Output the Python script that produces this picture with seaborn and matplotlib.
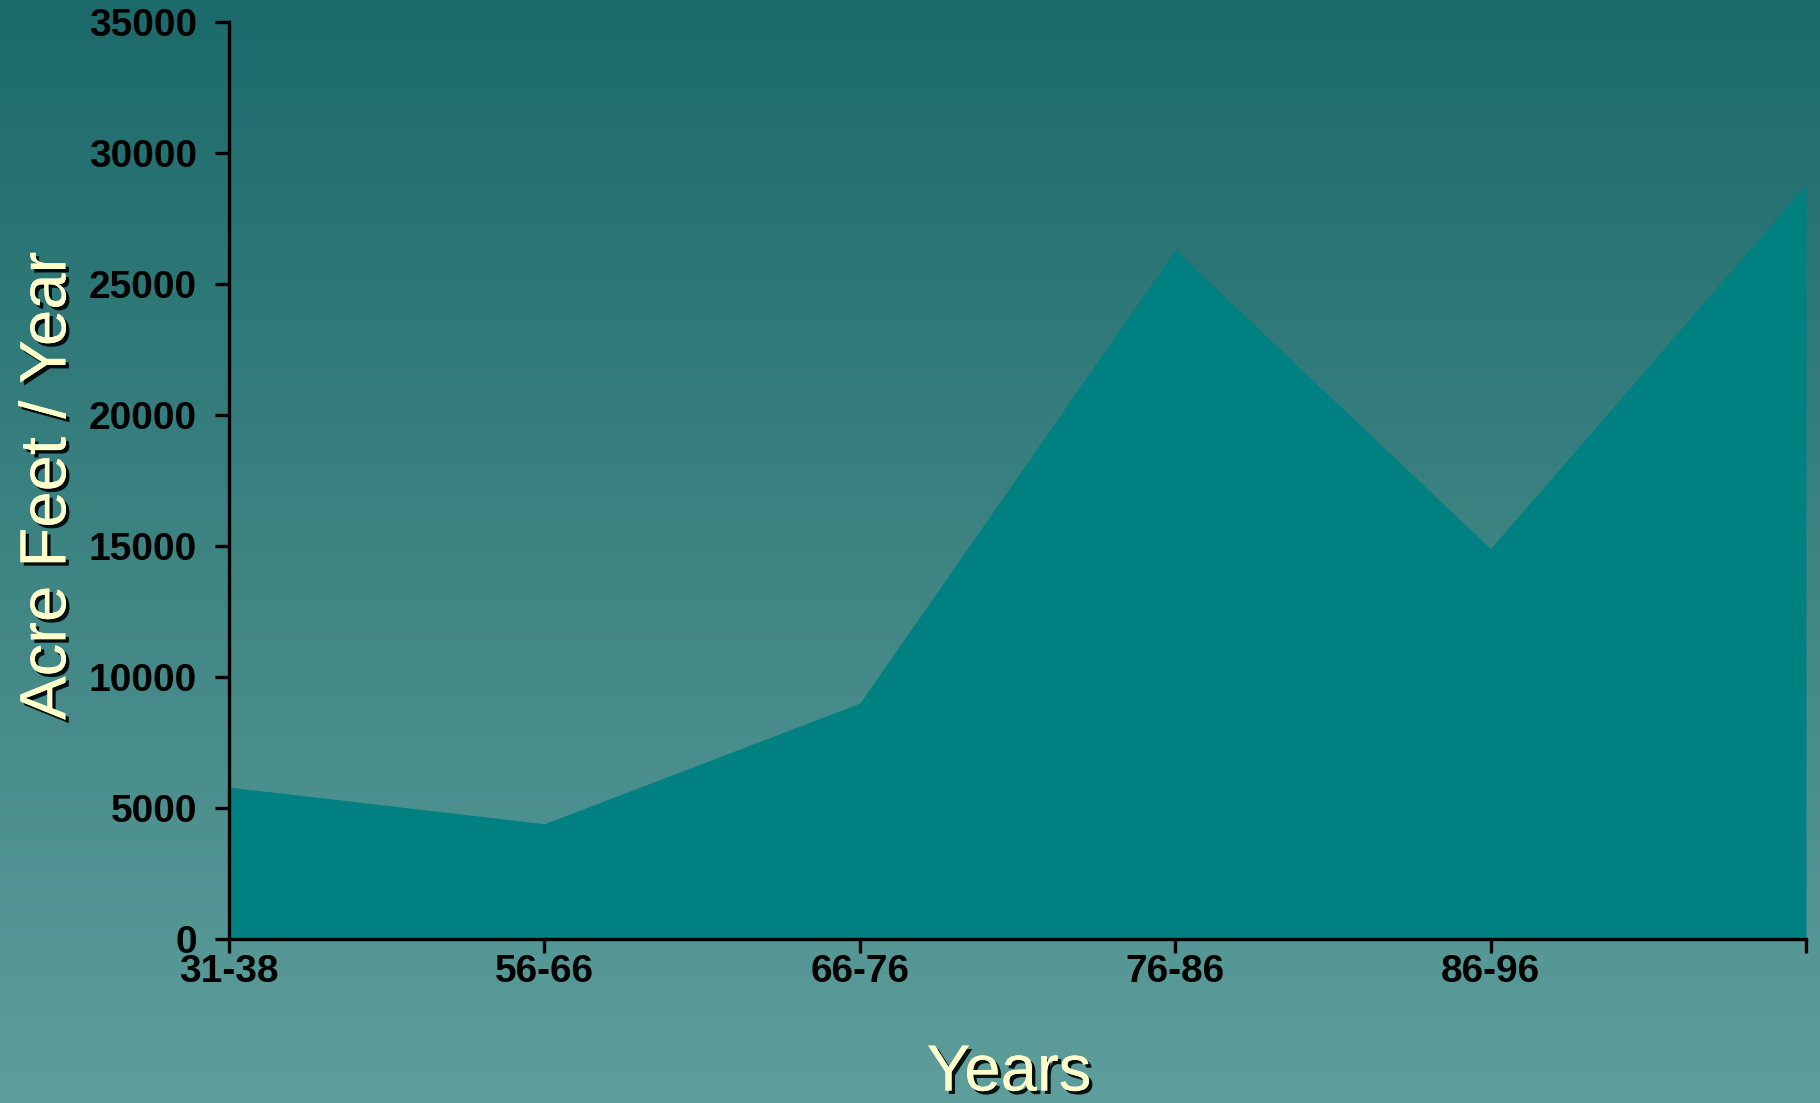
import numpy as np
import pandas as pd
import seaborn as sns
import matplotlib
matplotlib.use("Agg")
import matplotlib.pyplot as plt
import matplotlib.patheffects as pe
from matplotlib.colors import LinearSegmentedColormap

# data
periods = ["31-38", "56-66", "66-76", "76-86", "86-96", ""]
acre_feet = [5800, 4400, 9000, 26300, 14900, 28800]
y_ticks = [0, 5000, 10000, 15000, 20000, 25000, 30000, 35000]

df = pd.DataFrame({"pos": np.arange(len(periods)), "acre_feet": acre_feet})

sns.set_style("white")
plt.rcParams["font.family"] = ["Liberation Sans", "DejaVu Sans"]

fig = plt.figure(figsize=(18.2, 11.03), dpi=100)

# gradient background
bg = fig.add_axes([0, 0, 1, 1], zorder=0)
grad = np.linspace(0, 1, 256).reshape(-1, 1)
cmap = LinearSegmentedColormap.from_list("bg", ["#1C6A6A", "#5E9E9C"])
bg.imshow(grad, aspect="auto", cmap=cmap, extent=[0, 1, 0, 1], origin="upper")
bg.axis("off")

ax = fig.add_axes([0.1258, 0.1487, 0.8665, 0.8313], zorder=1)
ax.patch.set_alpha(0)

sns.lineplot(data=df, x="pos", y="acre_feet", ax=ax, color="#008080", linewidth=0)
ax.fill_between(df["pos"], df["acre_feet"], color="#008080", linewidth=0)

ax.set_xlim(0, len(periods) - 1)
ax.set_ylim(0, 35000)
ax.set_xticks(df["pos"])
ax.set_xticklabels(periods)
ax.set_yticks(y_ticks)
ax.set_yticklabels([str(t) for t in y_ticks])

for s in ["top", "right"]:
    ax.spines[s].set_visible(False)
for s in ["left", "bottom"]:
    ax.spines[s].set_color("black")
    ax.spines[s].set_linewidth(2.4)

ax.tick_params(axis="both", direction="out", length=10, width=2.4, color="black",
               labelsize=28, labelcolor="black", bottom=True, left=True)
ax.tick_params(axis="x", pad=1)
ax.tick_params(axis="y", pad=13)
for lab in ax.get_xticklabels() + ax.get_yticklabels():
    lab.set_fontweight("bold")

shadow = [pe.withSimplePatchShadow(offset=(2.5, -2.5), shadow_rgbFace="black", alpha=0.9), pe.Normal()]
ax.set_xlabel("Years", fontsize=47, color="#FFFFCC", path_effects=shadow)
ax.set_ylabel("Acre Feet / Year", fontsize=47, color="#FFFFCC", path_effects=shadow)
ax.xaxis.set_label_coords(0.4946, -0.114)
ax.yaxis.set_label_coords(-0.0955, 0.494)

fig.savefig("out.png", dpi=100)
